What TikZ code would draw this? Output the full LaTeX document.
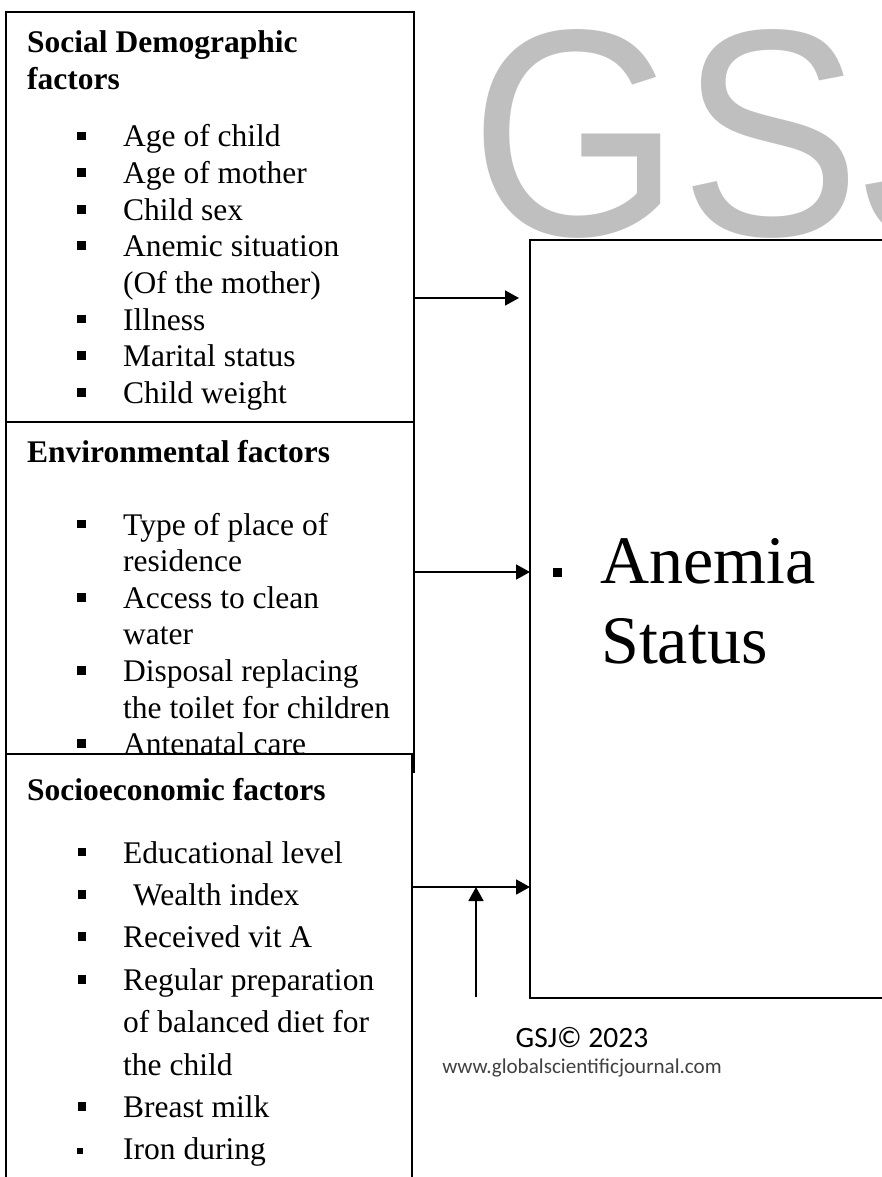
\documentclass[tikz,border=0pt]{standalone}
\usepackage{fontspec}
\setmainfont{Liberation Serif}
\newfontfamily\wmfont{Liberation Sans}
\newfontfamily\calfont{Carlito}
\usetikzlibrary{arrows.meta}
\definecolor{wmgray}{RGB}{191,191,191}
\definecolor{urlgray}{RGB}{64,64,64}
\newcommand\bodyfs{\fontsize{31.5}{37}\selectfont}
\begin{document}
\begin{tikzpicture}[x=1pt,y=-1pt,
  box/.style={draw, line width=1.8pt, fill=white, anchor=north west, inner sep=0pt, outer sep=0pt},
  itm/.style={anchor=base west, inner sep=0pt, font=\bodyfs},
  ttl/.style={anchor=base west, inner sep=0pt, font=\bodyfs\bfseries},
  blt/.style={fill, draw=none, minimum size=8.7pt, inner sep=0pt},
  arr/.style={line width=1.8pt, -{Triangle[length=14pt,width=15pt]}},
]
\useasboundingbox (0,0) rectangle (882,1177);
\clip (0,0) rectangle (882,1177);

% watermark
\node[anchor=base west, inner sep=0pt, text=wmgray, font=\fontsize{295}{300}\wmfont] (wm) at (470,235) {\scalebox{0.917}[1]{GSJ}};

% social demographic box
\node[box, minimum width=408pt, minimum height=410pt] (sd) at (6,12) {};
\node[ttl] (sdt1) at (27,53) {Social Demographic};
\node[ttl] (sdt2) at (27,90) {factors};
\node[blt] (sdb1) at (81.5,136) {};
\node[itm] (sd1) at (123,147) {Age of child};
\node[blt] (sdb2) at (81.5,172.6) {};
\node[itm] (sd2) at (123,183.6) {Age of mother};
\node[blt] (sdb3) at (81.5,209.2) {};
\node[itm] (sd3) at (123,220.2) {Child sex};
\node[blt] (sdb4) at (81.5,245.8) {};
\node[itm] (sd4) at (123,256.8) {Anemic situation};
\node[itm] (sd5) at (123,293.4) {(Of the mother)};
\node[blt] (sdb6) at (81.5,319) {};
\node[itm] (sd6) at (123,330) {Illness};
\node[blt] (sdb7) at (81.5,355.6) {};
\node[itm] (sd7) at (123,366.6) {Marital status};
\node[blt] (sdb8) at (81.5,392.2) {};
\node[itm] (sd8) at (123,403.2) {Child weight};

% environmental box
\node[box, minimum width=408pt, minimum height=350pt] (env) at (6,422) {};
\node[ttl] (envt) at (27,462) {Environmental factors};
\node[blt] (envb1) at (81.5,524) {};
\node[itm] (env1) at (123,535) {Type of place of};
\node[itm] (env2) at (123,571.6) {residence};
\node[blt] (envb3) at (81.5,597.2) {};
\node[itm] (env3) at (123,608.2) {Access to clean};
\node[itm] (env4) at (123,644.8) {water};
\node[blt] (envb5) at (81.5,670.4) {};
\node[itm] (env5) at (123,681.4) {Disposal replacing};
\node[itm] (env6) at (123,718) {the toilet for children};
\node[blt] (envb7) at (81.5,743.6) {};
\node[itm] (env7) at (123,754.6) {Antenatal care};

% socioeconomic box
\node[box, minimum width=406pt, minimum height=460pt] (soc) at (6,754) {};
\node[ttl] (soct) at (27,800) {Socioeconomic factors};
\node[blt] (socb1) at (82,852) {};
\node[itm] (soc1) at (123,863) {Educational level};
\node[blt] (socb2) at (82,894.4) {};
\node[itm] (soc2) at (133,905.4) {Wealth index};
\node[blt] (socb3) at (82,936.8) {};
\node[itm] (soc3) at (123,947.8) {Received vit A};
\node[blt] (socb4) at (82,979.2) {};
\node[itm] (soc4) at (123,990.2) {Regular preparation};
\node[itm] (soc5) at (123,1032.6) {of balanced diet for};
\node[itm] (soc6) at (123,1075) {the child};
\node[blt] (socb7) at (82,1106.4) {};
\node[itm] (soc7) at (123,1117.4) {Breast milk};
\node[blt, minimum size=6.7pt] (socb8) at (80,1151) {};
\node[itm] (soc8) at (123,1159.8) {Iron during};

% anemia status box
\node[box, minimum width=420pt, minimum height=758pt] (an) at (530,240) {};
\node[blt, minimum size=9pt] (anb) at (557.5,572) {};
\node[anchor=base west, inner sep=0pt, font=\fontsize{68}{80}\selectfont] (an1) at (600,583) {Anemia};
\node[anchor=base west, inner sep=0pt, font=\fontsize{68}{80}\selectfont] (an2) at (601,663) {Status};

% connectors
\coordinate (e1) at (519,298);
\coordinate (e2) at (0,572);
\coordinate (e3) at (0,887);
\coordinate (u0) at (476,997);
\draw[arr] (sd.east |- e1) -- (e1);
\draw[arr] (env.east |- e2) -- (an.west |- e2);
\draw[arr] (soc.east |- e3) -- (an.west |- e3);
\draw[arr] (u0) -- (u0 |- e3);

% footer
\node[anchor=base, inner sep=0pt, font=\fontsize{29.5}{32}\calfont] (gsj) at (582,1047) {GSJ© 2023};
\node[anchor=base, inner sep=0pt, text=urlgray, font=\fontsize{21.1}{24}\calfont] (url) at (582,1073) {www.globalscientificjournal.com};
\end{tikzpicture}
\end{document}
